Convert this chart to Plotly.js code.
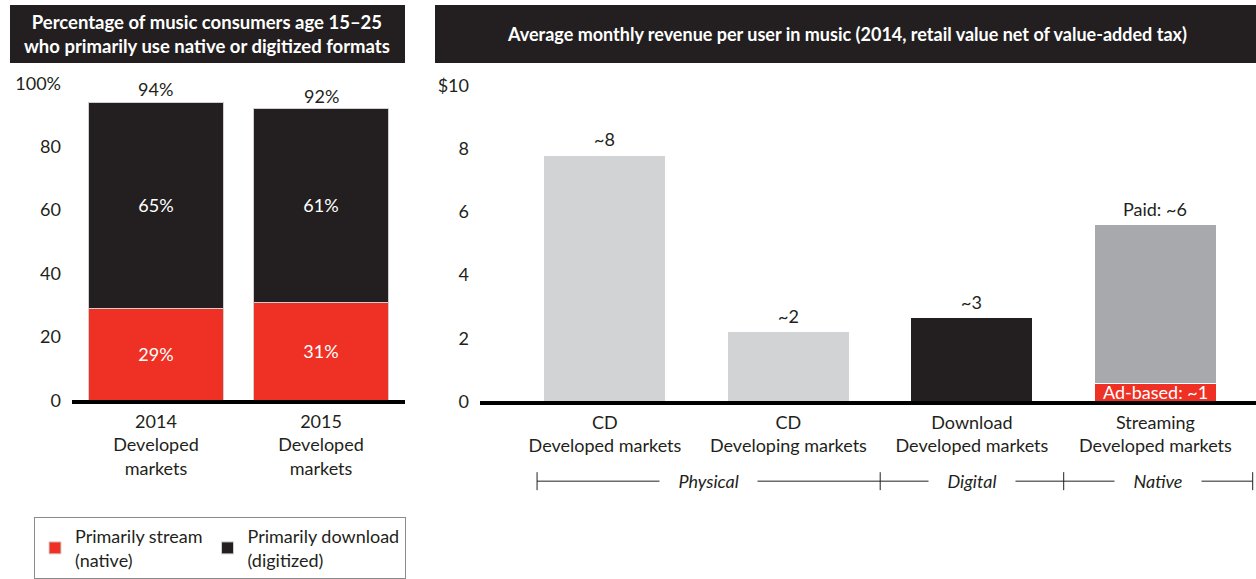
<!DOCTYPE html>
<html>
<head>
<meta charset="utf-8">
<script src="https://cdn.plot.ly/plotly-3.0.1.min.js"></script>
<style>
html,body{margin:0;padding:0;background:#fff;}
#chart{width:1256px;height:579px;}
</style>
</head>
<body>
<div id="chart"></div>
<script>
// ---------- data: left panel ----------
const yearCategories = ["2014<br>Developed<br>markets", "2015<br>Developed<br>markets"];
const streamShare = [29, 31];
const downloadShare = [65, 61];
const totalShare = [94, 92];
const leftTickVals = [0, 20, 40, 60, 80, 100];
const leftTickText = ["0", "20", "40", "60", "80", "100%"];

// ---------- data: right panel ----------
const revCategories = ["CD<br>Developed markets", "CD<br>Developing markets", "Download<br>Developed markets", "Streaming<br>Developed markets"];
const revMain = [7.8, 2.2, 2.65, 5.05];
const revAd = [null, null, null, 0.55];
const revLabels = ["~8", "~2", "~3", "Paid: ~6"];
const adLabel = "Ad-based: ~1";
const rightTickVals = [0, 2, 4, 6, 8, 10];
const rightTickText = ["0", "2", "4", "6", "8", "$10"];
const groupNames = ["Physical", "Digital", "Native"];
const groupBounds = [-0.37, 1.5, 2.5, 3.53];

// ---------- styling ----------
const FONT = "Lato, 'Open Sans', sans-serif";
const INK = "#231f20";
const RED = "#ee3124";
const LIGHT = "#d1d3d4";
const MID = "#a7a9ac";
const W = 1256, H = 579;
const px = v => v / W;
const py = v => 1 - v / H;
const FS = 18;
const pad = "&nbsp;&nbsp;&nbsp;&nbsp;";

const revColors = [LIGHT, LIGHT, INK, MID];

const data = [
  {
    type: "bar", x: yearCategories, y: streamShare, name: "Primarily stream<br>(native)",
    xaxis: "x", yaxis: "y", width: 0.824,
    marker: {color: RED, line: {color: "#d0d0d0", width: 1}},
    texttemplate: "%{y}%", textposition: "inside", insidetextanchor: "middle",
    textfont: {family: FONT, size: FS, color: "#fff"}, hoverinfo: "skip"
  },
  {
    type: "bar", x: yearCategories, y: downloadShare, name: "Primarily download<br>(digitized)",
    xaxis: "x", yaxis: "y", width: 0.824,
    marker: {color: INK, line: {color: "#d0d0d0", width: 1}},
    texttemplate: "%{y}%", textposition: "inside", insidetextanchor: "middle",
    textfont: {family: FONT, size: FS, color: "#fff"}, hoverinfo: "skip"
  },
  {
    type: "bar", x: revCategories, y: revAd, name: "Ad-based",
    xaxis: "x2", yaxis: "y2", width: 0.665, showlegend: false,
    marker: {color: RED, line: {color: "#fff", width: 1}}, hoverinfo: "skip"
  },
  {
    type: "bar", x: revCategories, y: revMain, name: "Revenue",
    xaxis: "x2", yaxis: "y2", width: 0.665, showlegend: false,
    marker: {color: revColors, line: {color: "#fff", width: 1}}, hoverinfo: "skip"
  }
];

const annotations = [];
annotations.push({
  xref: "paper", yref: "paper", x: px(207), y: py(34), xanchor: "center", yanchor: "middle",
  text: "<b>Percentage of music consumers age 15–25<br>who primarily use native or digitized formats</b>",
  showarrow: false, font: {family: FONT, size: 18.5, color: "#fff"}
});
annotations.push({
  xref: "paper", yref: "paper", x: px(847), y: py(34), xanchor: "center", yanchor: "middle",
  text: "<b>Average monthly revenue per user in music (2014, retail value net of value-added tax)</b>",
  showarrow: false, font: {family: FONT, size: 18, color: "#fff"}
});
yearCategories.forEach((c, i) => {
  annotations.push({
    xref: "x", yref: "y", x: c, y: totalShare[i], yanchor: "bottom", yshift: 0,
    text: totalShare[i] + "%", showarrow: false, font: {family: FONT, size: FS, color: INK}
  });
});
revCategories.forEach((c, i) => {
  annotations.push({
    xref: "x2", yref: "y2", x: c, y: revMain[i] + (revAd[i] || 0), yanchor: "bottom", yshift: 3,
    text: revLabels[i], showarrow: false, font: {family: FONT, size: FS, color: INK}
  });
});
annotations.push({
  xref: "x2", yref: "y2", x: revCategories[3], y: revAd[3] / 2, yanchor: "middle", yshift: 1,
  text: adLabel, showarrow: false, font: {family: FONT, size: FS, color: "#fff"}
});
groupNames.forEach((g, i) => {
  annotations.push({
    xref: "x2", yref: "paper", x: (groupBounds[i] + groupBounds[i + 1]) / 2, y: py(482),
    yanchor: "middle", text: pad + "<i>" + g + "</i>" + pad, showarrow: false,
    bgcolor: "#fff", borderpad: 0,
    font: {family: FONT, size: FS, color: INK}
  });
});

const shapes = [
  {type: "rect", xref: "paper", yref: "paper", x0: px(10), x1: px(405), y0: py(5), y1: py(63), fillcolor: INK, line: {width: 0}, layer: "below"},
  {type: "rect", xref: "paper", yref: "paper", x0: px(435), x1: px(1256), y0: py(5), y1: py(63), fillcolor: INK, line: {width: 0}, layer: "below"},
  {type: "line", xref: "x2", yref: "paper", x0: groupBounds[0], x1: groupBounds[groupBounds.length - 1], y0: py(482), y1: py(482), line: {color: INK, width: 1}, layer: "below"}
];
groupBounds.forEach(b => {
  shapes.push({type: "line", xref: "x2", yref: "paper", x0: b, x1: b, y0: py(473), y1: py(491), line: {color: INK, width: 1}});
});

const axisFont = {family: FONT, size: FS, color: INK};

const layout = {
  width: W, height: H,
  margin: {l: 0, r: 0, t: 0, b: 0, pad: 0},
  paper_bgcolor: "#fff", plot_bgcolor: "#fff",
  barmode: "stack",
  font: {family: FONT, color: INK},
  showlegend: true,
  legend: {
    orientation: "h", x: px(34), y: py(518), xanchor: "left", yanchor: "top",
    bordercolor: "#8a8a8a", borderwidth: 1, bgcolor: "#fff",
    font: {family: FONT, size: FS, color: INK}, traceorder: "normal",
    itemclick: false, itemdoubleclick: false
  },
  xaxis: {
    domain: [px(72), px(405)], anchor: "y", range: [-0.509, 1.509],
    showline: true, linecolor: "#000", linewidth: 4, showgrid: false, zeroline: false,
    ticks: "", tickfont: axisFont, ticklabelstandoff: 2, fixedrange: true
  },
  yaxis: {
    domain: [py(401), py(83.5)], anchor: "x", range: [0, 100],
    tickvals: leftTickVals, ticktext: leftTickText, showgrid: false, zeroline: false,
    showline: false, ticks: "", tickfont: axisFont, ticklabelstandoff: 10, fixedrange: true
  },
  xaxis2: {
    domain: [px(480), 1], anchor: "y2", range: [-0.681, 3.548],
    showline: true, linecolor: "#000", linewidth: 4, showgrid: false, zeroline: false,
    ticks: "", tickfont: axisFont, ticklabelstandoff: 2, fixedrange: true
  },
  yaxis2: {
    domain: [py(402), py(86)], anchor: "x2", range: [0, 10],
    tickvals: rightTickVals, ticktext: rightTickText, showgrid: false, zeroline: false,
    showline: false, ticks: "", tickfont: axisFont, ticklabelstandoff: 10, fixedrange: true
  },
  annotations: annotations,
  shapes: shapes
};

Plotly.newPlot("chart", data, layout, {displayModeBar: false, staticPlot: true});
</script>
</body>
</html>
